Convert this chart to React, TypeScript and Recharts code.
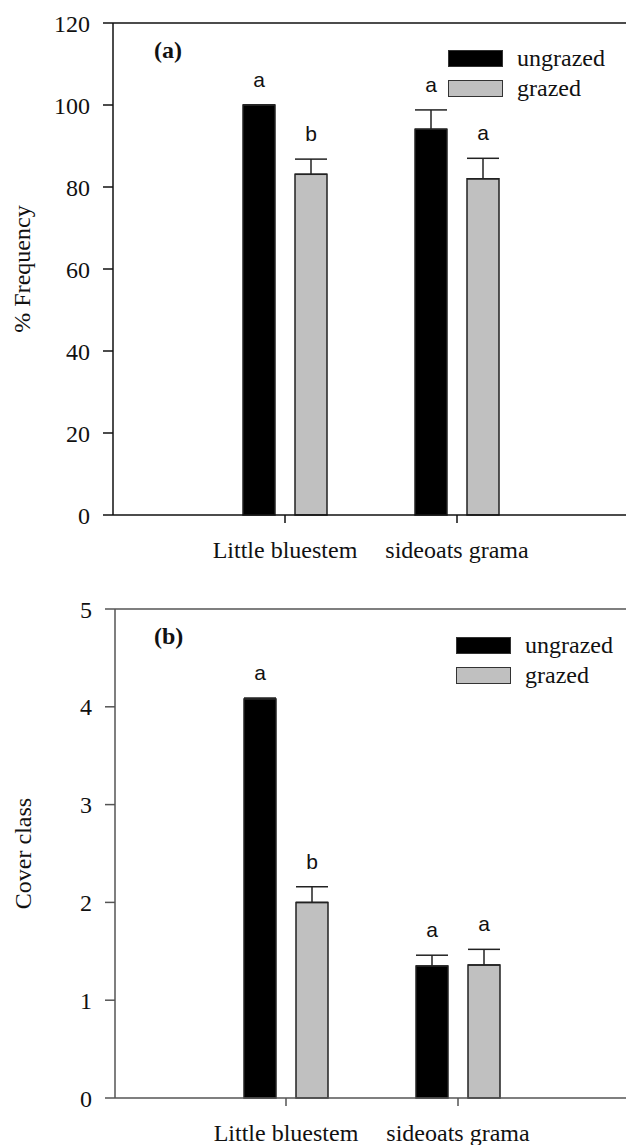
import React from "react";
import {
  BarChart,
  Bar,
  XAxis,
  YAxis,
  ErrorBar,
  LabelList,
  ReferenceLine,
  Label,
} from "recharts";

const categories = ["Little bluestem", "sideoats grama"];
const seriesNames = ["ungrazed", "grazed"];
const seriesColors = ["#000000", "#c0c0c0"];

// panel (a) % frequency
const freqUngrazed = [100, 94.1];
const freqGrazed = [83.1, 82.0];
const freqUngrazedErr = [0, 4.7];
const freqGrazedErr = [3.7, 5.0];
const freqLettersUngrazed = ["a", "a"];
const freqLettersGrazed = ["b", "a"];
const freqTicks = [0, 20, 40, 60, 80, 100, 120];

// panel (b) cover class
const coverUngrazed = [4.08, 1.35];
const coverGrazed = [2.0, 1.36];
const coverUngrazedErr = [0.01, 0.11];
const coverGrazedErr = [0.16, 0.16];
const coverLettersUngrazed = ["a", "a"];
const coverLettersGrazed = ["b", "a"];
const coverTicks = [0, 1, 2, 3, 4, 5];

const SERIF = "'Liberation Serif', 'Times New Roman', serif";
const SANS = "'Liberation Sans', Arial, sans-serif";

const buildRows = (u: number[], g: number[], ue: number[], ge: number[]) =>
  categories.map((name, i) => ({
    name,
    ungrazed: u[i],
    grazed: g[i],
    ungrazedErr: [0, ue[i]],
    grazedErr: [0, ge[i]],
  }));

// letter drawn above the top of the error bar
const letterContent = (values: number[], errs: number[], letters: string[]) => (props: any) => {
  const vb = props.viewBox ?? props;
  const i = props.index;
  const { x, y, width, height } = vb;
  if (i == null || values[i] == null) return null;
  const perUnit = height / values[i];
  const top = y - errs[i] * perUnit;
  return (
    <text x={x + width / 2} y={top - 18} textAnchor="middle" fontFamily={SANS} fontSize={21} fill="#111">
      {letters[i]}
    </text>
  );
};

const LegendBox = ({ top, left }: any) => (
  <div style={{ position: "absolute", top, left, display: "flex", flexDirection: "column" }}>
    {seriesNames.map((n, i) => (
      <div key={n} style={{ display: "flex", alignItems: "center", height: 30 }}>
        <div
          style={{
            width: 53,
            height: 15,
            background: seriesColors[i],
            border: "1.5px solid #333",
          }}
        />
        <span style={{ marginLeft: 14, fontFamily: SERIF, fontSize: 24, color: "#111", lineHeight: "30px" }}>
          {n}
        </span>
      </div>
    ))}
  </div>
);

function Panel({
  top,
  height,
  marginTop,
  xAxisHeight,
  axisWidth,
  padLeft,
  padRight,
  yMax,
  ticks,
  yLabel,
  tag,
  axisColor,
  legendTop,
  legendLeft,
  u,
  g,
  ue,
  ge,
  lu,
  lg,
}: any) {
  const rows = buildRows(u, g, ue, ge);
  return (
    <div style={{ position: "absolute", left: 0, top, width: 626, height }}>
      <BarChart
        width={626}
        height={height}
        data={rows}
        margin={{ top: marginTop, right: 0, bottom: 0, left: 0 }}
        barSize={32}
        barGap={20}
      >
        <XAxis
          dataKey="name"
          type="category"
          height={xAxisHeight}
          padding={{ left: padLeft, right: padRight }}
          stroke={axisColor}
          strokeWidth={1.5}
          tickSize={8}
          tickMargin={18}
          tick={{ fontFamily: SERIF, fontSize: 24, fill: "#111" }}
        />
        <YAxis
          type="number"
          domain={[0, yMax]}
          ticks={ticks}
          width={axisWidth}
          stroke={axisColor}
          strokeWidth={1.5}
          tickSize={10}
          tickMargin={13}
          interval={0}
          tick={{ fontFamily: SERIF, fontSize: 24, fill: "#111" }}
        >
          <Label
            value={yLabel}
            angle={-90}
            position="center"
            dx={-35}
            style={{ fontFamily: SERIF, fontSize: 24, fill: "#111", textAnchor: "middle" }}
          />
        </YAxis>
        <ReferenceLine y={yMax} stroke={axisColor} strokeWidth={1.5} />
        <Bar dataKey="ungrazed" name="ungrazed" fill={seriesColors[0]} stroke="#222" strokeWidth={1.5} isAnimationActive={false}>
          <ErrorBar dataKey="ungrazedErr" width={16} stroke="#222" strokeWidth={1.5} direction="y" />
          <LabelList dataKey="ungrazed" content={letterContent(u, ue, lu)} />
        </Bar>
        <Bar dataKey="grazed" name="grazed" fill={seriesColors[1]} stroke="#222" strokeWidth={1.5} isAnimationActive={false}>
          <ErrorBar dataKey="grazedErr" width={16} stroke="#222" strokeWidth={1.5} direction="y" />
          <LabelList dataKey="grazed" content={letterContent(g, ge, lg)} />
        </Bar>
      </BarChart>
      <LegendBox top={legendTop} left={legendLeft} />
      <div
        style={{
          position: "absolute",
          left: 154,
          top: marginTop + 13,
          fontFamily: SERIF,
          fontSize: 24,
          fontWeight: "bold",
          color: "#111",
          lineHeight: "28px",
        }}
      >
        {tag}
      </div>
    </div>
  );
}

export default function App() {
  return (
    <div
      style={{
        position: "absolute",
        left: 0,
        top: 0,
        width: 626,
        height: 1145,
        overflow: "hidden",
        background: "#fff",
      }}
    >
      <Panel
        top={0}
        height={580}
        marginTop={23}
        xAxisHeight={65}
        axisWidth={113}
        padLeft={86}
        padRight={83}
        yMax={120}
        ticks={freqTicks}
        yLabel="% Frequency"
        tag="(a)"
        axisColor="#111"
        legendTop={43}
        legendLeft={448}
        u={freqUngrazed}
        g={freqGrazed}
        ue={freqUngrazedErr}
        ge={freqGrazedErr}
        lu={freqLettersUngrazed}
        lg={freqLettersGrazed}
      />
      <Panel
        top={580}
        height={565}
        marginTop={29}
        xAxisHeight={47}
        axisWidth={115}
        padLeft={85}
        padRight={82}
        yMax={5}
        ticks={coverTicks}
        yLabel="Cover class"
        tag="(b)"
        axisColor="#555"
        legendTop={50}
        legendLeft={456}
        u={coverUngrazed}
        g={coverGrazed}
        ue={coverUngrazedErr}
        ge={coverGrazedErr}
        lu={coverLettersUngrazed}
        lg={coverLettersGrazed}
      />
    </div>
  );
}
